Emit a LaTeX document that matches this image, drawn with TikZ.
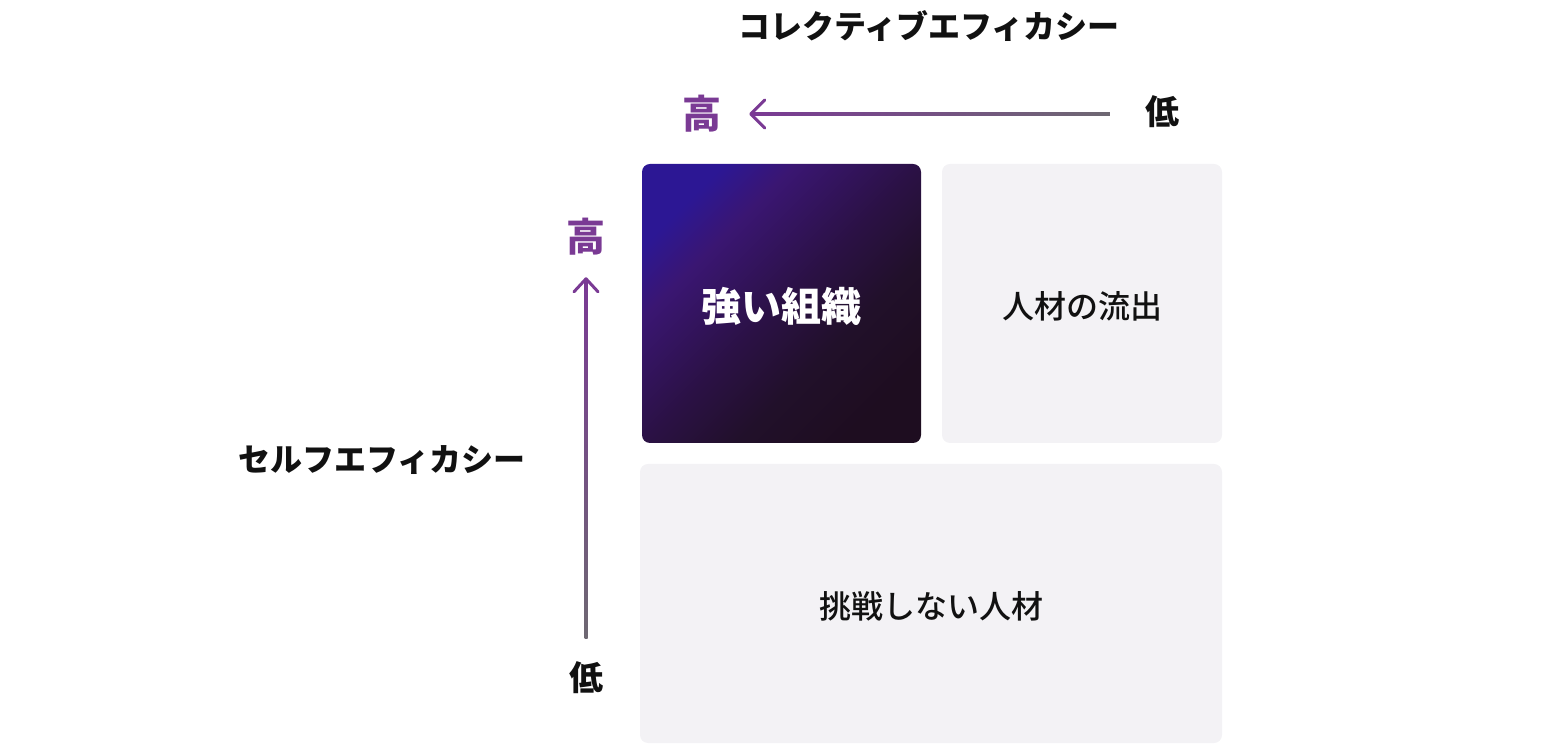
\documentclass[tikz,border=0pt]{standalone}
\usepackage{fontspec}
\setmainfont{Noto Sans CJK JP}
\newfontfamily\jpmed{Noto Sans CJK JP Medium}
\usetikzlibrary{calc}
\definecolor{accent}{HTML}{7A3A94}
\definecolor{tailgray}{HTML}{6E6872}
\definecolor{lightbox}{HTML}{F3F2F5}
\definecolor{ink}{HTML}{111111}
\definecolor{ga}{HTML}{2C1794}
\definecolor{gb}{HTML}{3A1672}
\definecolor{gc}{HTML}{2B1145}
\definecolor{gd}{HTML}{21102A}
\definecolor{ge}{HTML}{1E0D20}
\pgfdeclarehorizontalshading{darkgrad}{100bp}{color(0bp)=(ga); color(25bp)=(ga); color(34bp)=(gb); color(50bp)=(gc); color(62bp)=(gd); color(75bp)=(ge); color(100bp)=(ge)}
\newcommand{\lowerink}[1]{\raisebox{-3bp}[\height][\depth]{#1}}
\tikzset{
  cell/.style={rounded corners=8bp, inner sep=0pt, text centered},
  lightcell/.style={cell, fill=lightbox, font=\jpmed\fontsize{32bp}{36bp}\selectfont, text=ink},
  axistitle/.style={font=\bfseries\fontsize{32bp}{36bp}\selectfont, text=ink, inner sep=0pt},
  highlab/.style={font=\bfseries\fontsize{39bp}{42bp}\selectfont, text=accent, inner sep=0pt},
  lowlab/.style={font=\bfseries\fontsize{34bp}{38bp}\selectfont, text=ink, inner sep=0pt},
  chevron/.style={draw=accent, line width=3bp, line cap=round, line join=round},
}
\begin{document}
\begin{tikzpicture}[x=1bp,y=1bp]
\useasboundingbox (0,0) rectangle (1560,744);
% boxes
\node[cell, shading=darkgrad, shading angle=-45, minimum width=279bp, minimum height=279bp,
      text=white, font=\bfseries\fontsize{40bp}{44bp}\selectfont] (strong) at (781.5,440.5) {\lowerink{強い組織}};
\node[lightcell, minimum width=280bp, minimum height=279bp] (outflow) at (1082,440.5) {\lowerink{人材の流出}};
\node[lightcell, minimum width=582bp, minimum height=279bp] (nochal) at (931,140.5) {\lowerink{挑戦しない人材}};
% titles
\node[axistitle] (ctitle) at (929,718) {コレクティブエフィカシー};
\node[axistitle] (stitle) at (382,284) {セルフエフィカシー};
% horizontal axis
\node[highlab] (hhigh) at (702,630) {高};
\node[lowlab] (hlow) at (1162,632) {低};
\coordinate (hhead) at ($(hhigh.east)+(29,0)$);
\coordinate (htail) at ($(hlow.west)+(-35,-2)$);
\shade[left color=accent, right color=tailgray] ($(hhead)+(1,-1.5)$) rectangle ($(htail)+(0,1.5)$);
\draw[chevron] ($(hhead)+(14,14)$) -- (hhead) -- ($(hhead)+(14,-14)$);
% vertical axis
\node[highlab] (vhigh) at (586,507) {高};
\node[lowlab] (vlow) at (586,66) {低};
\coordinate (vhead) at ($(vhigh.south)+(0,-23)$);
\coordinate (vtail) at ($(vlow.north)+(0,23)$);
\shade[top color=accent, bottom color=tailgray] ($(vhead)+(-1.5,-1)$) rectangle ($(vtail)+(1.5,0)$);
\draw[chevron] ($(vhead)+(-12,-13)$) -- (vhead) -- ($(vhead)+(12,-13)$);
\end{tikzpicture}
\end{document}
